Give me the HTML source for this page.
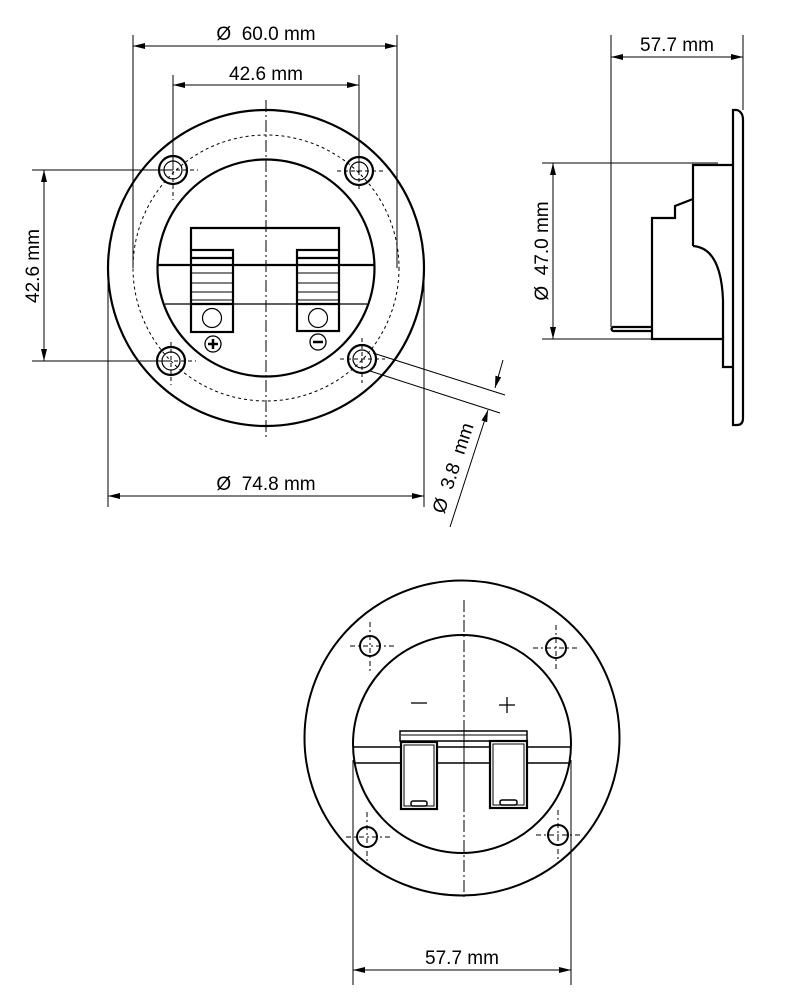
<!DOCTYPE html>
<html><head><meta charset="utf-8"><style>
html,body{margin:0;padding:0;background:#fff}
svg{display:block}
text{font-family:"Liberation Sans",sans-serif;font-size:19px;fill:#000;white-space:pre}
</style></head><body>
<svg width="796" height="1006" viewBox="0 0 796 1006" xmlns="http://www.w3.org/2000/svg">
<defs>
<marker id="a" viewBox="0 0 12 6" refX="12" refY="3" markerWidth="12" markerHeight="6" orient="auto-start-reverse" markerUnits="userSpaceOnUse"><path d="M0,0 L12,3 L0,6 Z" fill="#000"/></marker>
</defs>
<g fill="none" stroke="#000">
<circle cx="266" cy="268" r="158" stroke-width="2.2"/>
<circle cx="266" cy="268" r="108.5" stroke-width="2.2"/>
<circle cx="266" cy="268" r="133" stroke-width="1" stroke-dasharray="3,3"/>
<line x1="266" y1="100" x2="266" y2="440" stroke-width="1" stroke-dasharray="12,3,2,3"/>
<g stroke-width="2.2">
<circle cx="173" cy="170" r="14"/><circle cx="173" cy="170" r="9" stroke-width="1.2"/>
<circle cx="359" cy="171" r="14"/><circle cx="359" cy="171" r="9" stroke-width="1.2"/>
<circle cx="171" cy="361" r="14"/><circle cx="171" cy="361" r="9" stroke-width="1.2"/>
<circle cx="362" cy="359" r="14"/><circle cx="362" cy="359" r="9" stroke-width="1.2"/>
</g>
<g stroke-width="1" stroke-dasharray="4,3">
<line x1="155" y1="170" x2="198" y2="170"/><line x1="173" y1="150" x2="173" y2="200"/>
<line x1="337" y1="171" x2="383" y2="171"/><line x1="359" y1="150" x2="359" y2="190"/>
<line x1="153" y1="361" x2="196" y2="361"/><line x1="171" y1="342" x2="171" y2="385"/>
<line x1="340" y1="359" x2="385" y2="359"/><line x1="362" y1="338" x2="362" y2="383"/>
</g>
<g stroke-width="2.2">
<polyline points="191,250 191,228 339,228 339,250"/>
<rect x="191" y="250" width="42" height="82"/>
<rect x="297" y="250" width="42" height="81"/>
<line x1="191" y1="258" x2="233" y2="258"/><line x1="297" y1="258" x2="339" y2="258"/>
<line x1="191" y1="304" x2="233" y2="304"/><line x1="297" y1="304" x2="339" y2="304"/>
<line x1="157" y1="265" x2="374" y2="265"/>
</g>
<line x1="165" y1="304" x2="367" y2="304" stroke-width="1.3"/>
<g stroke-width="1">
<line x1="191" y1="273" x2="233" y2="273"/><line x1="191" y1="283" x2="233" y2="283"/><line x1="191" y1="292" x2="233" y2="292"/><line x1="191" y1="300" x2="233" y2="300"/>
<line x1="297" y1="273" x2="339" y2="273"/><line x1="297" y1="283" x2="339" y2="283"/><line x1="297" y1="292" x2="339" y2="292"/><line x1="297" y1="300" x2="339" y2="300"/>
</g>
<circle cx="212" cy="318" r="9.5" stroke-width="1.2"/>
<circle cx="318" cy="318" r="9.5" stroke-width="1.2"/>
<circle cx="213" cy="344" r="8" stroke-width="1.3"/>
<line x1="208" y1="344" x2="218" y2="344" stroke-width="2.5"/><line x1="213" y1="339" x2="213" y2="349" stroke-width="2.5"/>
<circle cx="318" cy="342" r="8" stroke-width="1.3"/>
<line x1="313" y1="342" x2="323" y2="342" stroke-width="2.5"/>
<g stroke-width="1">
<line x1="133" y1="35" x2="133" y2="268"/><line x1="397" y1="35" x2="397" y2="268"/>
<line x1="133" y1="46" x2="397" y2="46" marker-start="url(#a)" marker-end="url(#a)"/>
<line x1="173" y1="75" x2="173" y2="170"/><line x1="359" y1="75" x2="359" y2="171"/>
<line x1="173" y1="85" x2="359" y2="85" marker-start="url(#a)" marker-end="url(#a)"/>
<line x1="32" y1="170" x2="173" y2="170"/><line x1="32" y1="361" x2="171" y2="361"/>
<line x1="44" y1="170" x2="44" y2="361" marker-start="url(#a)" marker-end="url(#a)"/>
<line x1="108" y1="268" x2="108" y2="507"/><line x1="424" y1="268" x2="424" y2="507"/>
<line x1="108" y1="496" x2="424" y2="496" marker-start="url(#a)" marker-end="url(#a)"/>
<line x1="373" y1="353" x2="505" y2="395"/><line x1="370" y1="371" x2="500" y2="413"/>
<line x1="503" y1="360" x2="495" y2="388" marker-end="url(#a)"/>
<line x1="450" y1="527" x2="488" y2="410" marker-end="url(#a)"/>
</g>
<path d="M733,110 L737,110 Q743,112 743,120 L743,418 Q743,425 737,425 L733,425 Z" stroke-width="2.2"/>
<g stroke-width="2.2">
<polyline points="733,165 693,165 693,246"/>
<path d="M693,246 Q721,248 723,300 L723,339"/>
<polyline points="693,199 675,206 675,218 652,218 652,339 723,339 723,367 733,367"/>
<path d="M652,327 L613,327 Q610,329 613,331 L652,331"/>
</g>
<g stroke-width="1">
<line x1="611" y1="35" x2="611" y2="327"/><line x1="743" y1="35" x2="743" y2="110"/>
<line x1="611" y1="57" x2="743" y2="57" marker-start="url(#a)" marker-end="url(#a)"/>
<line x1="542" y1="163" x2="718" y2="163"/><line x1="542" y1="339" x2="652" y2="339"/>
<line x1="553" y1="163" x2="553" y2="339" marker-start="url(#a)" marker-end="url(#a)"/>
</g>
<circle cx="462" cy="738" r="157.5" stroke-width="2"/>
<circle cx="462" cy="744" r="109" stroke-width="2"/>
<line x1="464" y1="600" x2="464" y2="900" stroke-width="1" stroke-dasharray="12,3,2,3"/>
<g stroke-width="2">
<circle cx="370" cy="646" r="10"/><circle cx="556" cy="648" r="10"/>
<circle cx="367" cy="837" r="10"/><circle cx="558" cy="835" r="10"/>
</g>
<g stroke-width="1" stroke-dasharray="5,3,2,3">
<line x1="350" y1="646" x2="395" y2="646"/><line x1="370" y1="622" x2="370" y2="673"/>
<line x1="533" y1="648" x2="580" y2="648"/><line x1="556" y1="625" x2="556" y2="672"/>
<line x1="346" y1="837" x2="392" y2="837"/><line x1="367" y1="812" x2="367" y2="863"/>
<line x1="536" y1="835" x2="582" y2="835"/><line x1="558" y1="810" x2="558" y2="862"/>
</g>
<g stroke-width="1.5">
<line x1="354" y1="747" x2="571" y2="747"/><line x1="355" y1="763" x2="570" y2="763"/>
<rect x="400" y="731" width="127" height="10" fill="#fff"/>
<line x1="401" y1="735" x2="527" y2="735" stroke-width="1"/>
<rect x="401" y="742" width="36" height="67" fill="#fff" stroke-width="2.2"/>
<rect x="404" y="745" width="30" height="61" stroke-width="1"/>
<rect x="490" y="741" width="37" height="67" fill="#fff" stroke-width="2.2"/>
<rect x="493" y="744" width="31" height="61" stroke-width="1"/>
<rect x="411" y="801" width="16" height="5" rx="2"/>
<rect x="500" y="800" width="17" height="5" rx="2"/>
</g>
<line x1="464" y1="731" x2="464" y2="809" stroke-width="1" stroke-dasharray="12,3,2,3"/>
<line x1="411" y1="703" x2="427" y2="703" stroke-width="1.3"/>
<line x1="499" y1="705" x2="515" y2="705" stroke-width="1.3"/><line x1="507" y1="697" x2="507" y2="713" stroke-width="1.3"/>
<g stroke-width="1">
<line x1="353" y1="760" x2="353" y2="985"/><line x1="571" y1="760" x2="571" y2="985"/>
<line x1="353" y1="970" x2="571" y2="970" marker-start="url(#a)" marker-end="url(#a)"/>
</g>
</g>
<text x="266" y="40" text-anchor="middle">Ø  60.0 mm</text>
<text x="266" y="80" text-anchor="middle">42.6 mm</text>
<text x="266" y="490" text-anchor="middle">Ø  74.8 mm</text>
<text x="677" y="51" text-anchor="middle">57.7 mm</text>
<text x="462" y="964" text-anchor="middle">57.7 mm</text>
<text transform="translate(39,266) rotate(-90)" text-anchor="middle">42.6 mm</text>
<text transform="translate(548,251) rotate(-90)" text-anchor="middle">Ø  47.0 mm</text>
<text transform="translate(459,470) rotate(-71.5)" text-anchor="middle">Ø  3.8  mm</text>
</svg>
</body></html>
